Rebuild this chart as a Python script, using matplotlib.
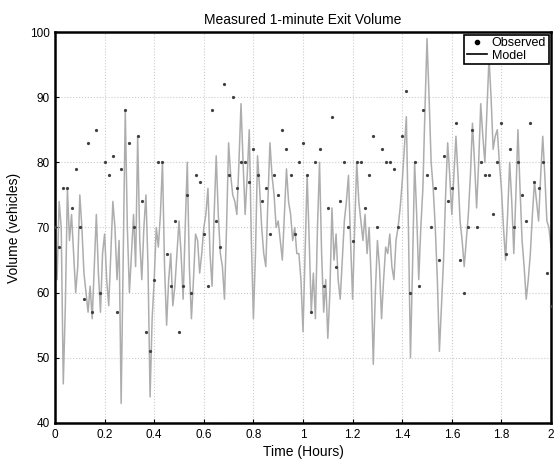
import matplotlib
matplotlib.use("Agg")
import matplotlib.pyplot as plt
from matplotlib.lines import Line2D
import numpy as np

plt.rcParams['font.family'] = ['Liberation Sans', 'DejaVu Sans']

# observations every minute, model every half minute
obs_minutes = np.arange(121)
model_minutes = np.arange(241) * 0.5

model_full = [68, 74, 46, 76, 72, 60, 75, 63, 57, 56, 72, 57, 69, 58, 74, 62, 43, 88, 60, 72,
              84, 62, 75, 44, 62, 67, 80, 55, 66, 61, 71, 59, 80, 56, 69, 63, 70, 76, 61, 81,
              66, 59, 83, 75, 72, 89, 72, 85, 56, 81, 70, 64, 83, 75, 71, 65, 79, 72, 70, 66,
              54, 78, 57, 56, 80, 57, 53, 73, 69, 59, 71, 78, 59, 80, 71, 72, 70, 49, 68, 56,
              67, 69, 62, 70, 77, 87, 50, 80, 62, 76, 99, 80, 70, 51, 65, 83, 72, 84, 71, 64,
              72, 86, 73, 89, 80, 96, 82, 85, 76, 65, 80, 66, 85, 68, 59, 66, 77, 71, 84, 71, 67]

model_half = [62, 70, 58, 68, 66, 64, 70, 60, 61, 64, 63, 66, 62, 66, 70, 68, 65, 70, 66, 64,
              68, 70, 64, 56, 70, 72, 64, 62, 58, 66, 66, 70, 64, 62, 68, 66, 72, 66, 72, 72,
              64, 70, 78, 74, 80, 80, 78, 68, 66, 76, 66, 74, 78, 70, 68, 72, 74, 68, 66, 62,
              66, 68, 63, 70, 66, 62, 60, 65, 62, 65, 74, 68, 70, 74, 68, 66, 62, 60, 64, 62,
              66, 64, 68, 73, 82, 70, 64, 72, 70, 88, 90, 76, 62, 58, 75, 78, 78, 78, 68, 68,
              78, 80, 80, 84, 88, 90, 84, 80, 70, 72, 74, 75, 76, 64, 62, 72, 74, 78, 78, 70]

observed = [70, 67, 76, 76, 73, 79, 70, 59, 83, 57, 85, 60, 80, 78, 81, 57, 79, 88, 83, 70,
            84, 74, 54, 51, 62, 80, 80, 66, 61, 71, 54, 61, 75, 60, 78, 77, 69, 61, 88, 71,
            67, 92, 78, 90, 76, 80, 80, 77, 82, 78, 74, 76, 69, 78, 75, 85, 82, 78, 69, 80,
            83, 78, 57, 80, 82, 61, 73, 87, 64, 74, 80, 70, 68, 80, 80, 73, 78, 84, 70, 82,
            80, 80, 79, 70, 84, 91, 60, 80, 61, 88, 78, 70, 76, 65, 81, 74, 76, 86, 65, 60,
            70, 85, 70, 80, 78, 78, 72, 80, 86, 66, 82, 70, 80, 75, 71, 86, 77, 76, 80, 63, 58]

xticks = [0, 0.2, 0.4, 0.6, 0.8, 1, 1.2, 1.4, 1.6, 1.8, 2]
xtick_labels = ["0", "0.2", "0.4", "0.6", "0.8", "1", "1.2", "1.4", "1.6", "1.8", "2"]
yticks = [40, 50, 60, 70, 80, 90, 100]

# merge whole-minute and half-minute model values in time order
model = []
for i in range(len(model_half)):
    model.append(model_full[i])
    model.append(model_half[i])
model.append(model_full[-1])

fig = plt.figure(figsize=(5.54, 4.68), dpi=100)
ax = fig.add_axes([0.0993, 0.0962, 0.8953, 0.8354])

ax.plot(model_minutes / 60.0, model, color="0.68", linewidth=1.1, zorder=2)
ax.plot(obs_minutes / 60.0, observed, linestyle="none", marker=".", markersize=2.6,
        color="0.25", zorder=3)

ax.set_xlim(0, 2)
ax.set_ylim(40, 100)
ax.set_xticks(xticks)
ax.set_xticklabels(xtick_labels)
ax.set_yticks(yticks)
ax.tick_params(direction="in", length=3, labelsize=8.5, pad=4)
ax.grid(True, linestyle=":", color="0.8", linewidth=0.8)
for s in ax.spines.values():
    s.set_linewidth(1.8)

ax.set_xlabel("Time (Hours)", fontsize=10, labelpad=3)
ax.set_ylabel("Volume (vehicles)", fontsize=10, labelpad=6)
ax.set_title("Measured 1-minute Exit Volume", fontsize=10, pad=6)

handles = [Line2D([], [], linestyle="none", marker=".", markersize=6, color="k"),
           Line2D([], [], color="k", linewidth=1.2)]
leg = ax.legend(handles, ["Observed", "Model"], loc="upper right", fontsize=9,
                fancybox=False, framealpha=1, edgecolor="k", handlelength=1.6,
                borderpad=0.2, labelspacing=0.05, handletextpad=0.4,
                borderaxespad=0.2)
leg.get_frame().set_linewidth(1.2)

fig.savefig("out.png", dpi=100)
